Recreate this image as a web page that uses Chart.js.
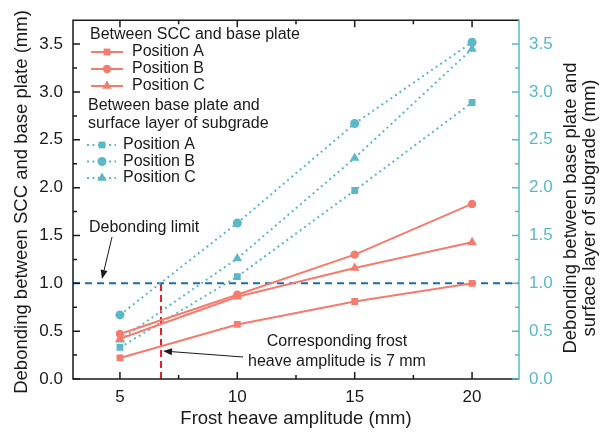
<!DOCTYPE html>
<html><head><meta charset="utf-8">
<script src="https://cdn.jsdelivr.net/npm/chart.js@4.4.1/dist/chart.umd.min.js"></script>
<style>html,body{margin:0;padding:0;background:#fff}#wrap{width:608px;height:433px;position:relative}</style>
</head><body><div id="wrap"><canvas id="c"></canvas></div>
<script>
// ---- data ----
const amplitudes = [5, 10, 15, 20];
const sccA = [0.22, 0.57, 0.81, 1.00];
const sccB = [0.47, 0.88, 1.30, 1.83];
const sccC = [0.42, 0.86, 1.16, 1.43];
const subA = [0.33, 1.07, 1.97, 2.89];
const subB = [0.67, 1.63, 2.67, 3.52];
const subC = [0.41, 1.26, 2.31, 3.45];
const xTicks = [5, 10, 15, 20];
const xMinorTicks = [7.5, 12.5, 17.5];
const yTicks = [0, 0.5, 1.0, 1.5, 2.0, 2.5, 3.0, 3.5];
const yMinorTicks = [0.25, 0.75, 1.25, 1.75, 2.25, 2.75, 3.25];
const debondingLimit = 1.0;
const correspondingAmplitude = 6.75;
const xRange = [3, 22];
const yRange = [0, 3.75];

const RED = '#F47C6E', CYAN = '#5BB8C6', BLUE = '#1B6CB0', VRED = '#E5202A', INK = '#1a1a1a';
const FONT = "'Liberation Sans', Arial, sans-serif";

const pts = arr => amplitudes.map((x, i) => ({x, y: arr[i]}));
const sccSeries = [['Position A', sccA, 'rect', 4.8], ['Position B', sccB, 'circle', 4.2], ['Position C', sccC, 'triangle', 5.5]];
const subSeries = [['Position A', subA, 'rect', 4.8], ['Position B', subB, 'circle', 4.5], ['Position C', subC, 'triangle', 5.5]];

const datasets = [];
sccSeries.forEach(([label, arr, ps, r]) => datasets.push({
  label, data: pts(arr), yAxisID: 'y', borderColor: RED, backgroundColor: RED,
  borderWidth: 2, pointStyle: ps, pointRadius: r, pointBorderWidth: 0, tension: 0
}));
subSeries.forEach(([label, arr, ps, r]) => datasets.push({
  label, data: pts(arr), yAxisID: 'y2', borderColor: CYAN, backgroundColor: CYAN,
  borderWidth: 2, borderDash: [2, 3.5], pointStyle: ps, pointRadius: r, pointBorderWidth: 0, tension: 0
}));
datasets.push({label: 'limit', data: [{x: xRange[0], y: debondingLimit}, {x: xRange[1], y: debondingLimit}],
  yAxisID: 'y', borderColor: BLUE, borderWidth: 2, borderDash: [7, 5], pointRadius: 0});
datasets.push({label: 'amp', data: [{x: correspondingAmplitude, y: 0}, {x: correspondingAmplitude, y: debondingLimit}],
  yAxisID: 'y', borderColor: VRED, borderWidth: 2, borderDash: [7, 4], pointRadius: 0});

function drawMarker(ctx, style, r, x, y, color) {
  ctx.save();
  ctx.fillStyle = color; ctx.strokeStyle = color;
  if (Chart.helpers && Chart.helpers.drawPoint) {
    Chart.helpers.drawPoint(ctx, {pointStyle: style, radius: r, rotation: 0, borderWidth: 0}, x, y);
  }
  ctx.restore();
}
function arrow(ctx, x1, y1, x2, y2) {
  ctx.save();
  ctx.strokeStyle = INK; ctx.fillStyle = INK; ctx.lineWidth = 1;
  const a = Math.atan2(y2 - y1, x2 - x1), L = 9, W = 3.5;
  const bx = x2 - L * Math.cos(a), by = y2 - L * Math.sin(a);
  ctx.beginPath(); ctx.moveTo(x1, y1); ctx.lineTo(bx, by); ctx.stroke();
  ctx.beginPath(); ctx.moveTo(x2, y2);
  ctx.lineTo(bx + W * Math.sin(a), by - W * Math.cos(a));
  ctx.lineTo(bx - W * Math.sin(a), by + W * Math.cos(a));
  ctx.closePath(); ctx.fill();
  ctx.restore();
}

const decor = {
  id: 'decor',
  afterDraw(chart) {
    const ctx = chart.ctx, {left, right, top, bottom} = chart.chartArea;
    const xs = chart.scales.x, ys = chart.scales.y, y2 = chart.scales.y2;
    ctx.save();
    // frame
    ctx.lineWidth = 1.5; ctx.strokeStyle = INK;
    ctx.beginPath();
    ctx.moveTo(right, top); ctx.lineTo(left, top); ctx.lineTo(left, bottom); ctx.lineTo(right, bottom);
    ctx.stroke();
    ctx.strokeStyle = CYAN;
    ctx.beginPath(); ctx.moveTo(right, top - 0.75); ctx.lineTo(right, bottom + 0.75); ctx.stroke();
    // ticks
    ctx.lineWidth = 1.5; ctx.strokeStyle = INK;
    ctx.beginPath();
    xTicks.forEach(v => { const p = xs.getPixelForValue(v);
      ctx.moveTo(p, bottom); ctx.lineTo(p, bottom - 7); ctx.moveTo(p, top); ctx.lineTo(p, top + 7); });
    xMinorTicks.forEach(v => { const p = xs.getPixelForValue(v);
      ctx.moveTo(p, bottom); ctx.lineTo(p, bottom - 4); ctx.moveTo(p, top); ctx.lineTo(p, top + 4); });
    yTicks.forEach(v => { const p = ys.getPixelForValue(v); ctx.moveTo(left, p); ctx.lineTo(left + 7, p); });
    yMinorTicks.forEach(v => { const p = ys.getPixelForValue(v); ctx.moveTo(left, p); ctx.lineTo(left + 4, p); });
    ctx.stroke();
    ctx.strokeStyle = CYAN;
    ctx.beginPath();
    yTicks.forEach(v => { const p = y2.getPixelForValue(v); ctx.moveTo(right, p); ctx.lineTo(right - 7, p); });
    yMinorTicks.forEach(v => { const p = y2.getPixelForValue(v); ctx.moveTo(right, p); ctx.lineTo(right - 4, p); });
    ctx.stroke();

    // axis titles
    ctx.fillStyle = INK; ctx.textAlign = 'center'; ctx.textBaseline = 'middle';
    ctx.font = `18.5px ${FONT}`;
    ctx.fillText('Frost heave amplitude (mm)', (left + right) / 2, 419);
    ctx.save(); ctx.translate(22, 202); ctx.rotate(-Math.PI / 2);
    ctx.fillText('Debonding between SCC and base plate (mm)', 0, 0); ctx.restore();
    ctx.save(); ctx.translate(571, 208); ctx.rotate(-Math.PI / 2);
    ctx.fillText('Debonding between base plate and', 0, 0);
    ctx.fillText('surface layer of subgrade (mm)', 0, 19); ctx.restore();

    // legend
    ctx.font = `16px ${FONT}`; ctx.textAlign = 'left';
    ctx.fillText('Between SCC and base plate', 90, 35);
    sccSeries.forEach(([label, , ps, r], i) => {
      const y = 52 + i * 17;
      ctx.save(); ctx.strokeStyle = RED; ctx.lineWidth = 2;
      ctx.beginPath(); ctx.moveTo(91, y); ctx.lineTo(123, y); ctx.stroke(); ctx.restore();
      drawMarker(ctx, ps, r, 107, y, RED);
      ctx.fillStyle = INK; ctx.fillText(label, 132, y);
    });
    ctx.fillText('Between base plate and', 88, 106);
    ctx.fillText('surface layer of subgrade', 88, 124);
    subSeries.forEach(([label, , ps, r], i) => {
      const y = 145 + i * 16.5;
      ctx.save(); ctx.strokeStyle = CYAN; ctx.lineWidth = 2; ctx.setLineDash([2, 3.5]);
      ctx.beginPath(); ctx.moveTo(87, y); ctx.lineTo(116, y); ctx.stroke(); ctx.restore();
      drawMarker(ctx, ps, r, 102, y, CYAN);
      ctx.fillStyle = INK; ctx.fillText(label, 123, y);
    });

    // annotations
    ctx.fillText('Debonding limit', 89, 228);
    arrow(ctx, 112, 237, 102, 279);
    ctx.textAlign = 'center';
    ctx.fillText('Corresponding frost', 337, 342);
    ctx.fillText('heave amplitude is 7 mm', 337, 362);
    arrow(ctx, 243, 357, xs.getPixelForValue(correspondingAmplitude) + 2, 351);
    ctx.restore();
  }
};

new Chart(document.getElementById('c'), {
  type: 'line',
  data: {datasets},
  options: {
    responsive: true, maintainAspectRatio: false, animation: false,
    layout: {padding: {top: 18, left: 0, right: 0, bottom: 0}},
    plugins: {legend: {display: false}, tooltip: {enabled: false}},
    scales: {
      x: {type: 'linear', position: 'bottom', min: xRange[0], max: xRange[1],
        afterBuildTicks: s => { s.ticks = xTicks.map(v => ({value: v})); },
        afterFit: s => { s.height = 54; },
        grid: {display: false, drawTicks: false}, border: {display: false},
        ticks: {padding: 8, color: INK, font: {family: FONT, size: 17}, maxRotation: 0}},
      y: {type: 'linear', position: 'left', min: yRange[0], max: yRange[1],
        afterBuildTicks: s => { s.ticks = yTicks.map(v => ({value: v})); },
        afterFit: s => { s.width = 73; },
        grid: {display: false, drawTicks: false}, border: {display: false},
        ticks: {padding: 10, color: INK, font: {family: FONT, size: 17}, callback: v => Number(v).toFixed(1)}},
      y2: {type: 'linear', position: 'right', min: yRange[0], max: yRange[1],
        afterBuildTicks: s => { s.ticks = yTicks.map(v => ({value: v})); },
        afterFit: s => { s.width = 89; },
        grid: {display: false, drawTicks: false}, border: {display: false},
        ticks: {padding: 10, color: CYAN, font: {family: FONT, size: 17}, callback: v => Number(v).toFixed(1)}}
    }
  },
  plugins: [decor]
});
</script>
</body></html>
